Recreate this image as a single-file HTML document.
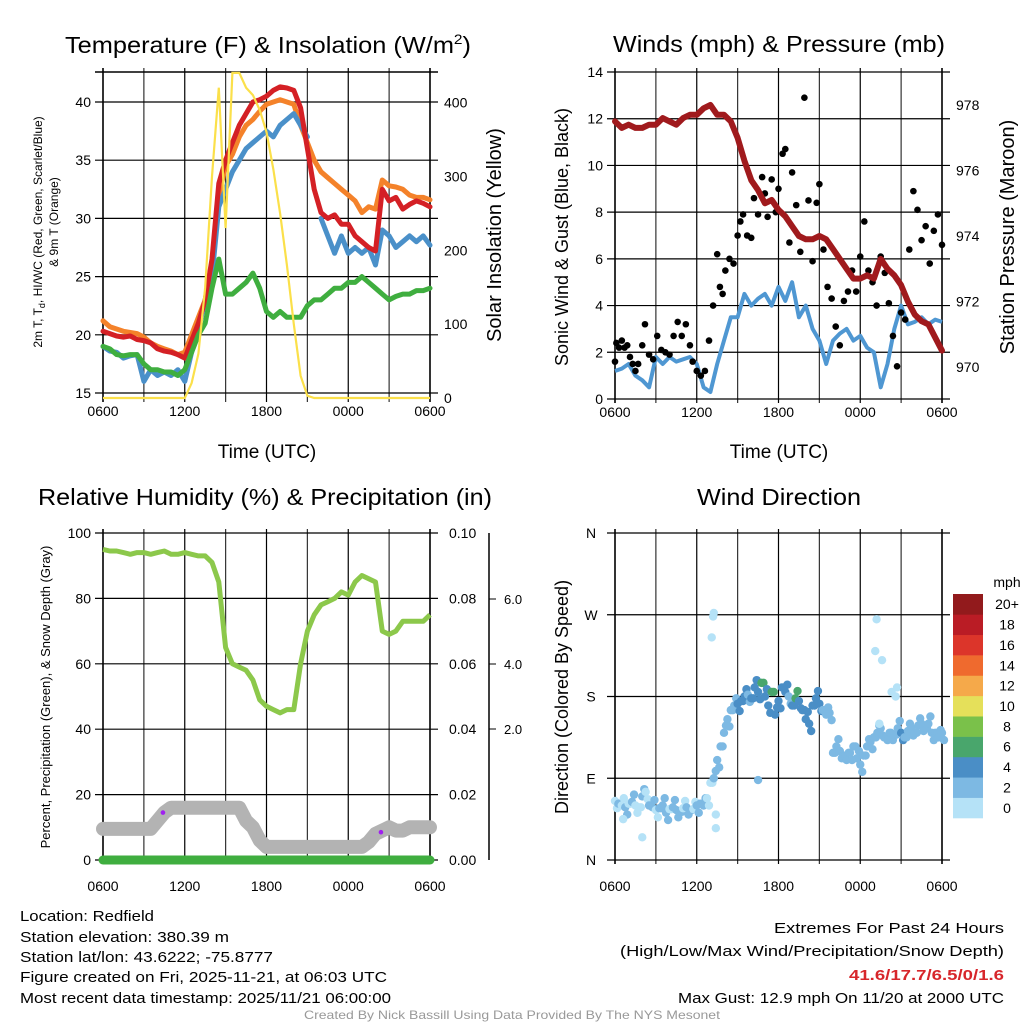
<!DOCTYPE html>
<html><head><meta charset="utf-8">
<style>
html,body{margin:0;padding:0;background:#fff;}
svg{display:block;font-family:"Liberation Sans",sans-serif;}
</style></head>
<body>
<svg id="fig" width="1024" height="1024" viewBox="0 0 1024 1024" xmlns="http://www.w3.org/2000/svg">
<rect width="1024" height="1024" fill="#fff"/>
<g id="g-temp"></g>
<g id="g-wind"></g>
<g id="g-rh"></g>
<g id="g-dir"></g>

<text x="268" y="53" font-size="23" text-anchor="middle" textLength="406" lengthAdjust="spacingAndGlyphs">Temperature (F) &amp; Insolation (W/m<tspan font-size="14" dy="-9">2</tspan><tspan dy="9">)</tspan></text>
<text x="779" y="52" font-size="23" text-anchor="middle" textLength="332" lengthAdjust="spacingAndGlyphs">Winds (mph) &amp; Pressure (mb)</text>
<text x="265" y="505" font-size="23" text-anchor="middle" textLength="454" lengthAdjust="spacingAndGlyphs">Relative Humidity (%) &amp; Precipitation (in)</text>
<text x="779" y="505" font-size="23" text-anchor="middle" textLength="164" lengthAdjust="spacingAndGlyphs">Wind Direction</text>

<g font-size="15">
<text x="20" y="921" textLength="134" lengthAdjust="spacingAndGlyphs">Location: Redfield</text>
<text x="20" y="942" textLength="209" lengthAdjust="spacingAndGlyphs">Station elevation: 380.39 m</text>
<text x="20" y="962" textLength="253" lengthAdjust="spacingAndGlyphs">Station lat/lon: 43.6222; -75.8777</text>
<text x="20" y="982" textLength="367" lengthAdjust="spacingAndGlyphs">Figure created on Fri, 2025-11-21, at 06:03 UTC</text>
<text x="20" y="1003" textLength="371" lengthAdjust="spacingAndGlyphs">Most recent data timestamp: 2025/11/21 06:00:00</text>
</g>
<g font-size="15" text-anchor="end">
<text x="1004" y="933" textLength="230" lengthAdjust="spacingAndGlyphs">Extremes For Past 24 Hours</text>
<text x="1004" y="956" textLength="384" lengthAdjust="spacingAndGlyphs">(High/Low/Max Wind/Precipitation/Snow Depth)</text>
<text x="1004" y="980" fill="#d7262b" font-weight="bold" textLength="155" lengthAdjust="spacingAndGlyphs">41.6/17.7/6.5/0/1.6</text>
<text x="1004" y="1003" textLength="326" lengthAdjust="spacingAndGlyphs">Max Gust: 12.9 mph On 11/20 at 2000 UTC</text>
</g>
<text x="512" y="1019" font-size="12" fill="#999" text-anchor="middle" textLength="416" lengthAdjust="spacingAndGlyphs">Created By Nick Bassill Using Data Provided By The NYS Mesonet</text>
</svg>
<script>
// ---------- data (hours since 0600 UTC, 0.5 h steps) ----------
const hours = [];
for (let i = 0; i <= 48; i++) hours.push(i * 0.5);
const timeTicks = ["0600","1200","1800","0000","0600"];
const tempAir = [20.3,20.1,19.9,19.8,19.9,19.6,19.5,19.3,18.8,18.6,18.5,18.3,18.0,19.5,21,23,26.5,33,35,36.5,38,39,40,40.2,40.5,41,41.3,41.2,41,39.5,36,32.5,30.5,30,30.3,29.5,29.5,28.5,28,27.5,27.2,32.5,31.5,31.8,30.8,31.2,31.5,31.3,31];
const temp9m = [21.2,20.7,20.5,20.3,20.2,20.1,19.8,19.3,19.0,18.8,18.6,18.3,18.5,20,21.5,23,26,32,34.5,35.5,37,38,38.5,39.2,39.8,40,40.2,40,39.8,38,36.5,35,34,33.5,33,32.5,32,31.5,30.5,31,30.8,33.3,32.8,32.7,32.5,32,31.8,31.8,31.6];
const windChill = [19,18.6,18.5,18.0,18.2,18.3,16,17,16.5,16.8,16.5,17,16,18.5,20.5,23,25,31,32.5,34,35,36,36.5,37,37.5,37,38,38.5,39,38,37,null,30,28.5,27,28.5,27,27.5,27,27.5,26,29,28.5,27.5,28,28.5,28,28.5,27.7];
const dewPoint = [19,18.8,18.3,18.2,18.3,18.3,17.5,17.0,17.0,16.8,16.8,16.5,17,18.5,20,21,24,26.5,23.5,23.5,24,24.5,25.3,24,22,21.5,22,21.5,21.5,21.5,22.5,23,23,23.5,24,24,24.5,24.5,25,24.5,24,23.5,23,23.3,23.5,23.5,23.8,23.8,24];
const insolation = [0,0,0,0,0,0,0,0,0,0,0,0,0,20,60,150,300,420,230,440,440,420,410,390,360,310,250,180,100,30,3,0,0,0,0,0,0,0,0,0,0,0,0,0,0,0,0,0,0];
const tempTicks = [15,20,25,30,35,40];
const insTicks = [0,100,200,300,400];

const windSpeed = [1.2,1.3,1.5,1.0,0.8,0.5,1.8,1.5,1.8,1.6,1.7,1.8,1.5,0.5,0.3,1.5,2.5,3.5,3.5,4.5,4,4.3,4.5,4,4.8,4.2,5,3.5,4,3,2.5,1.5,2.5,2.8,3,2.5,2.7,2.2,2,0.5,1.5,3,4,3.2,3.3,3.5,3.2,3.4,3.3];
const gustTime = [0,0.1,0.3,0.5,0.7,0.9,1.1,1.3,1.5,1.7,2.0,2.2,2.5,2.8,3.1,3.4,3.7,4.0,4.3,4.6,4.9,5.2,5.5,5.7,6.0,6.3,6.6,6.9,7.2,7.5,7.7,7.9,8.1,8.4,8.7,9.0,9.2,9.4,9.7,10.0,10.2,10.5,10.8,11.0,11.2,11.5,11.8,12.0,12.3,12.5,12.8,13.0,13.3,13.6,13.9,14.2,14.5,14.8,15.0,15.3,15.6,15.9,16.2,16.5,16.8,17.1,17.4,17.7,18.0,18.3,18.6,18.9,19.2,19.5,19.8,20.1,20.4,20.7,21.0,21.3,21.6,21.9,22.2,22.5,22.8,23.1,23.4,23.7,24.0];
const gustValue = [1.6,2.4,2.2,2.5,2.2,2.3,1.8,1.5,1.2,1.5,2.3,3.2,1.9,1.7,2.7,2.1,2.0,1.9,2.7,3.3,2.7,3.2,2.3,1.6,1.2,1.0,1.2,2.5,4.0,6.2,4.8,4.5,5.5,6.0,5.8,7.0,7.6,7.9,7.0,6.9,8.6,7.9,9.5,8.8,7.8,9.4,8.0,9.0,10.5,10.7,6.7,9.7,8.3,6.3,12.9,8.5,5.9,8.4,9.2,6.4,4.8,4.3,3.1,2.3,4.2,4.6,5.5,4.6,6.1,7.6,5.5,5.0,4.0,6.1,5.4,4.1,2.7,1.4,3.7,3.4,6.4,8.9,8.1,6.8,7.4,5.8,7.2,7.9,6.6,7.5];
const pressure = [977.5,977.3,977.4,977.3,977.3,977.4,977.4,977.6,977.5,977.4,977.6,977.7,977.7,977.9,978.0,977.7,977.7,977.5,977.0,976.3,975.7,975.4,975.0,975.1,974.8,974.6,974.3,974.0,973.9,973.9,974.0,973.9,973.6,973.3,973.0,972.7,972.7,972.8,972.7,973.3,973.0,972.8,972.5,972.0,971.6,971.4,971.3,970.9,970.5];
const windTicks = [0,2,4,6,8,10,12,14];
const presTicks = [970,972,974,976,978];

const relHum = [95,94.5,94.5,94,93.5,94,94,93.5,94,94.5,93.5,93.5,94,93.5,93,93,91,85,65,60,59,58,55,49,47,46,45,46,46,60,70,75,78,79,80,82,81,85,87,86,85,70,69,70,73,73,73,73,75];
const snowDepth = [9.5,9.5,9.5,9.5,9.5,9.5,9.5,9.5,12,14.5,16,16,16,16,16,16,16,16,16,16,16,12,10,6,4,4,4,4,4,4,4,4,4,4,4,4,4,4,4,5.5,8,9,10,9,9,10,10,10,10];
const precip = [0,0,0,0,0,0,0,0,0,0,0,0,0,0,0,0,0,0,0,0,0,0,0,0,0,0,0,0,0,0,0,0,0,0,0,0,0,0,0,0,0,0,0,0,0,0,0,0,0];
const markTime = [4.4,20.4];
const markValue = [14.5,8.5];
const rhTicks = [0,20,40,60,80,100];
const precipTicks = ["0.00","0.02","0.04","0.06","0.08","0.10"];
const snowTicks = ["2.0","4.0","6.0"];

const dirTime = [];
for (let i = 0; i <= 96; i++) dirTime.push(i * 0.25);
const dirDeg = [65,62,60,58,62,64,60,58,70,75,60,58,55,57,60,52,56,58,55,53,57,58,55,56,60,62,60,68,85,90,110,125,140,155,165,170,172,175,180,182,178,190,185,195,180,170,185,160,175,190,185,180,170,178,175,165,155,150,170,178,172,165,160,162,118,125,120,115,110,118,125,112,105,115,125,130,135,140,145,135,132,140,138,145,140,135,142,145,140,148,150,145,150,140,140,135,140];
const dirSpeed = [1.5,2.5,1.5,2.5,1.5,2.5,1.5,1.5,2.5,1.5,2.5,2.5,1.5,2.5,2.5,2.5,1.5,2.5,2.5,2.5,1.5,2.5,2.5,1.5,2.5,2.5,2.5,1.5,1.5,2.5,2.5,2.5,3.5,2.5,2.5,3.5,4.5,4.5,4.5,2.5,4.5,4.5,4.5,6.5,4.5,4.5,6.5,4.5,4.5,4.5,4.5,2.5,4.5,6.5,4.5,4.5,4.5,4.5,4.5,4.5,4.5,2.5,2.5,2.5,2.5,2.5,3.5,2.5,2.5,2.5,2.5,2.5,2.5,2.5,2.5,2.5,2.5,2.5,2.5,3.5,2.5,3.5,2.5,2.5,4.5,3.5,2.5,2.5,3.5,3.5,2.5,2.5,3.5,2.5,3.5,3.5,3.5];
const outTime = [7.2,7.25,7.1,19.2,19.1,19.4,7.4,2.0,0.6,19.6,20.6,20.7,20.3,7.4,10.5];
const outDeg = [268,272,245,265,230,150,50,25,45,220,180,190,185,35,88];
const outSpeed = [0.5,0.5,0.5,0.5,0.5,0.5,0.5,0.5,0.5,0.5,0.5,0.5,0.5,0.5,2.5];
const dirTicks = ["N","E","S","W","N"];
const legendLabels = ["0","2","4","6","8","10","12","14","16","18","20+"];
const legendColors = ["#b5e2f7","#7db9e3","#4a8ec6","#49a66c","#7ac14a","#e5e05a","#f5a94a","#ef6a2e","#dc352a","#ba1c25","#921a1c"];

// ---------- helpers ----------
const NS = "http://www.w3.org/2000/svg";
function mk(tag, attrs, parent) {
  const e = document.createElementNS(NS, tag);
  for (const k in attrs) e.setAttribute(k, attrs[k]);
  if (parent) parent.appendChild(e);
  return e;
}
function txt(parent, x, y, s, size, anchor, extra) {
  const t = mk("text", Object.assign({x: x, y: y, "font-size": size, "text-anchor": anchor || "middle"}, extra || {}), parent);
  t.textContent = s;
  return t;
}
function linePath(xs, ys, fx, fy) {
  let d = "", pen = false;
  for (let i = 0; i < Math.min(xs.length, ys.length); i++) {
    if (ys[i] === null || ys[i] === undefined) { pen = false; continue; }
    d += (pen ? "L" : "M") + fx(xs[i]).toFixed(1) + "," + fy(ys[i]).toFixed(1);
    pen = true;
  }
  return d;
}
function frame(g, X0, X1, Y0, Y1, hTicksY, labOff) {
  for (let h = 0; h <= 24; h += 3) {
    const x = X0 + h * (X1 - X0) / 24;
    const v = mk("line", {x1: x, x2: x, y1: Y0 - 4, y2: Y1 + 4, stroke: (h % 6 === 0 && h !== 0 && h !== 24) ? "#000" : "#333", "stroke-width": (h === 0 || h === 24) ? 2 : 1.2}, g);
    
    
  }
  hTicksY.forEach(y => {
    const l = mk("line", {x1: X0 - 8, x2: X1 + 8, y1: y, y2: y, stroke: "#000", "stroke-width": 1.2}, g);
    
    
  });
  for (let i = 0; i < 5; i++) {
    const x = X0 + i * 6 * (X1 - X0) / 24;
    const t = txt(g, x, Y1 + labOff, timeTicks[i], 14);
    
    
  }
}

// ---------- panel 1: temperature ----------
(function () {
  const g = document.getElementById("g-temp");
  const X0 = 103, X1 = 430, Y0 = 72, Y1 = 398;
  const fx = h => X0 + h * (X1 - X0) / 24;
  const fy = v => 393 - (v - 15) * (393 - 102) / 25;
  const fi = v => 398 - v * (398 - 102.5) / 400;
  frame(g, X0, X1, Y0, Y1, tempTicks.map(fy), 18);
  mk("line", {x1: X0 - 8, x2: X1 + 8, y1: Y0, y2: Y0, stroke: "#000", "stroke-width": 1.5}, g);
  tempTicks.forEach(v => { const t = txt(g, X0 - 12, fy(v) + 5, String(v), 14, "end");
      });
  insTicks.forEach(v => { const t = txt(g, X1 + 14, fi(v) + 5, String(v), 14, "start");
      });
  [[temp9m, "#f4822a", "temp-9m-line"], [windChill, "#4a90c9", "windchill-line"], [tempAir, "#d42025", "temperature-line"], [dewPoint, "#3fae3f", "dewpoint-line"]].forEach(s => {
    const p = mk("path", {d: linePath(hours, s[0], fx, fy), fill: "none", stroke: s[1], "stroke-width": 5, "stroke-linejoin": "round", "stroke-linecap": "round"}, g);
    
    
  });
  const ins = mk("path", {d: linePath(hours, insolation, fx, fi), fill: "none", stroke: "#fbe04a", "stroke-width": 2.2}, g);
  
  
  const xl = txt(g, 267, 458, "Time (UTC)", 19);
   
  const yl = mk("text", {transform: "translate(42,232) rotate(-90)", "font-size": 12, "text-anchor": "middle"}, g);
  yl.innerHTML = '2m T, T<tspan font-size="9" dy="3">d</tspan><tspan dy="-3">, HI/WC (Red, Green, Scarlet/Blue)</tspan>';
   
  const yl2 = txt(g, 0, 0, "& 9m T (Orange)", 12, "middle", {transform: "translate(58,222) rotate(-90)"});
   
  const yr = txt(g, 0, 0, "Solar Insolation (Yellow)", 20, "middle", {transform: "translate(501,235) rotate(-90)"});
   
})();

// ---------- panel 2: winds & pressure ----------
(function () {
  const g = document.getElementById("g-wind");
  const X0 = 615, X1 = 942, Y0 = 72, Y1 = 399;
  const fx = h => X0 + h * (X1 - X0) / 24;
  const fy = v => Y1 - v * (Y1 - Y0) / 14;
  const fp = v => 367 - (v - 970) * (367 - 105) / 8;
  frame(g, X0, X1, Y0, Y1, windTicks.map(fy), 18);
  windTicks.forEach(v => { const t = txt(g, X0 - 12, fy(v) + 5, String(v), 14, "end");
      });
  presTicks.forEach(v => { const t = txt(g, X1 + 14, fp(v) + 5, String(v), 14, "start");
      });
  const w = mk("path", {d: linePath(hours, windSpeed, fx, fy), fill: "none", stroke: "#4f97d2", "stroke-width": 4, "stroke-linejoin": "round"}, g);
  
  
  for (let i = 0; i < Math.min(gustTime.length, gustValue.length); i++) {
    const c = mk("circle", {cx: fx(gustTime[i]), cy: fy(gustValue[i]), r: 3.3, fill: "#000"}, g);
    
    
  }
  const p = mk("path", {d: linePath(hours, pressure, fx, fp), fill: "none", stroke: "#a01a1d", "stroke-width": 6, "stroke-linejoin": "round", "stroke-linecap": "round"}, g);
  
  
  const xl = txt(g, 779, 458, "Time (UTC)", 19);
   
  const yl = txt(g, 0, 0, "Sonic Wind & Gust (Blue, Black)", 18, "middle", {transform: "translate(568,237) rotate(-90)"});
   
  const yr = txt(g, 0, 0, "Station Pressure (Maroon)", 20, "middle", {transform: "translate(1014,237) rotate(-90)"});
   
})();

// ---------- panel 3: RH / precip / snow ----------
(function () {
  const g = document.getElementById("g-rh");
  const X0 = 103, X1 = 430, Y0 = 533, Y1 = 860;
  const fx = h => X0 + h * (X1 - X0) / 24;
  const fy = v => Y1 - v * (Y1 - Y0) / 100;
  frame(g, X0, X1, Y0, Y1, rhTicks.map(fy), 31);
  rhTicks.forEach(v => { const t = txt(g, X0 - 12, fy(v) + 5, String(v), 14, "end");
      });
  precipTicks.forEach((s, i) => { const t = txt(g, X1 + 19, fy(rhTicks[i]) + 5, s, 14, "start");
      });
  const sa = mk("line", {x1: 489, x2: 489, y1: 533, y2: 860, stroke: "#000", "stroke-width": 1.5}, g);
   
  [729, 664, 599].forEach((y, i) => {
    mk("line", {x1: 489, x2: 496, y1: y, y2: y, stroke: "#000"}, g);
    const t = txt(g, 504, y + 5, snowTicks[i], 13, "start");
     
  });
  const s = mk("path", {d: linePath(hours, snowDepth, fx, fy), fill: "none", stroke: "#b3b3b3", "stroke-width": 14, "stroke-linejoin": "round", "stroke-linecap": "round"}, g);
   
  const pr = mk("path", {d: linePath(hours, precip, fx, fy), fill: "none", stroke: "#3fae3f", "stroke-width": 9, "stroke-linecap": "round"}, g);
   
  const rh = mk("path", {d: linePath(hours, relHum, fx, fy), fill: "none", stroke: "#8cc84b", "stroke-width": 5, "stroke-linejoin": "round"}, g);
   
  for (let i = 0; i < markTime.length; i++) {
    const c = mk("circle", {cx: fx(markTime[i]), cy: fy(markValue[i]), r: 2.3, fill: "#a020f0"}, g);
     
  }
  const yl = txt(g, 0, 0, "Percent, Precipitation (Green), & Snow Depth (Gray)", 13, "middle", {transform: "translate(50,697) rotate(-90)"});
   
})();

// ---------- panel 4: wind direction ----------
(function () {
  const g = document.getElementById("g-dir");
  const X0 = 615, X1 = 942, Y0 = 533, Y1 = 860;
  const fx = h => X0 + h * (X1 - X0) / 24;
  const fy = d => Y1 - d * (Y1 - Y0) / 360;
  frame(g, X0, X1, Y0, Y1, [0, 90, 180, 270, 360].map(fy), 31);
  dirTicks.forEach((s, i) => { const t = txt(g, X0 - 24, fy(i * 90) + 5, s, 14, "middle");
      });
  const col = sp => legendColors[Math.min(10, Math.floor(sp / 2))];
  for (let i = 0; i < Math.min(dirTime.length, dirDeg.length, dirSpeed.length); i++) {
    const c = mk("circle", {cx: fx(dirTime[i]), cy: fy(dirDeg[i]), r: 4.2, fill: col(dirSpeed[i])}, g);
     
    const c2 = mk("circle", {cx: fx(dirTime[i]) + 2, cy: fy(dirDeg[i] + ((i % 3) - 1) * 8), r: 4.2, fill: col(dirSpeed[i])}, g);
     
  }
  for (let i = 0; i < outTime.length; i++) {
    const c = mk("circle", {cx: fx(outTime[i]), cy: fy(outDeg[i]), r: 4.2, fill: col(outSpeed[i])}, g);
     
  }
  const yl = txt(g, 0, 0, "Direction (Colored By Speed)", 18, "middle", {transform: "translate(568,697) rotate(-90)"});
   
  const lg = mk("g", {}, g);
   
  const h = (818 - 594) / 11;
  for (let i = 0; i < 11; i++) {
    const y = 818 - (i + 1) * h;
    const r = mk("rect", {x: 953, y: y, width: 30, height: h + 0.3, fill: legendColors[i]}, lg);
     
    const t = txt(lg, 1007, y + h / 2 + 5, legendLabels[i], 14, "middle");
     
  }
  const u = txt(lg, 1007, 587, "mph", 14, "middle");
   
})();
</script>
</body></html>
